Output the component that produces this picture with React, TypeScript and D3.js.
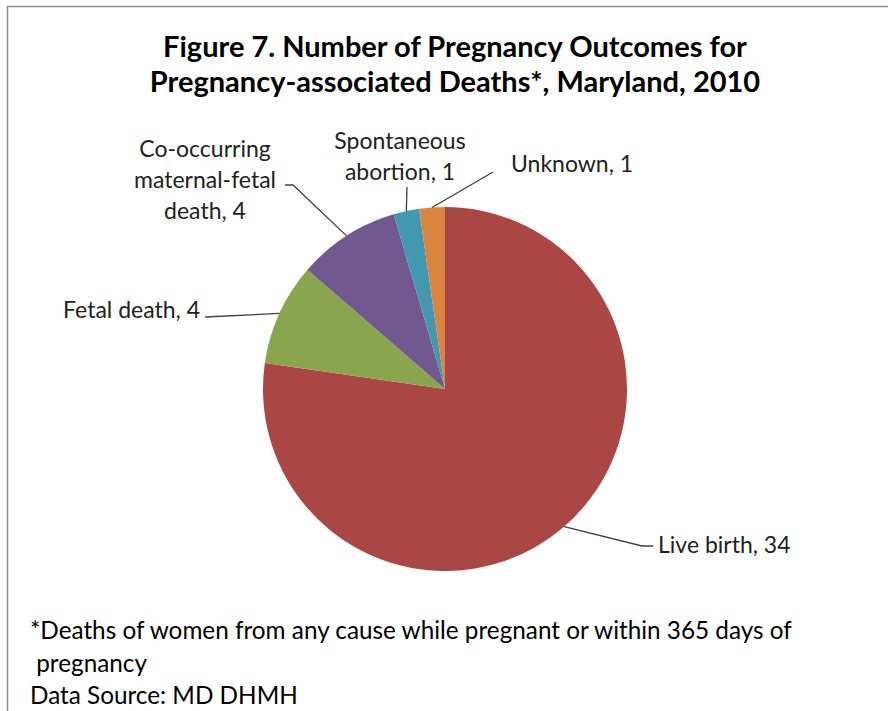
import React from "react";
import * as d3 from "d3";

const categories = [
  "Live birth",
  "Fetal death",
  "Co-occurring maternal-fetal death",
  "Spontaneous abortion",
  "Unknown",
];
const counts = [34, 4, 4, 1, 1];
const sliceColors = ["#AA4643", "#89A54E", "#71588F", "#4198AF", "#DB843D"];

const titleLines = [
  "Figure 7. Number of Pregnancy Outcomes for",
  "Pregnancy-associated Deaths*, Maryland, 2010",
];
const footnoteLines = [
  "*Deaths of women from any cause while pregnant or within 365 days of",
  " pregnancy",
  "Data Source: MD DHMH",
];

// Label text lines for each slice (name and count)
const labelLines = [
  ["Live birth, 34"],
  ["Fetal death, 4"],
  ["Co-occurring", "maternal-fetal", "death, 4"],
  ["Spontaneous", "abortion, 1"],
  ["Unknown, 1"],
];

const W = 888;
const H = 711;
const FONT = "Lato, 'Open Sans', sans-serif";

export default function App() {
  const cx = 445;
  const cy = 389;
  const r = 182;

  const pie = d3
    .pie<number>()
    .sort(null)
    .value((d) => d)
    .startAngle(0)
    .endAngle(2 * Math.PI);
  const arcs = pie(counts);
  const arc = d3.arc<d3.PieArcDatum<number>>().innerRadius(0).outerRadius(r);

  const edgePoint = (a: d3.PieArcDatum<number>) => {
    const m = (a.startAngle + a.endAngle) / 2;
    return [cx + r * Math.sin(m), cy - r * Math.cos(m)];
  };

  // leader path points after the slice edge, text anchor and first baseline
  const layouts = [
    { path: [[642, 546], [653, 546]], anchor: "start", x: 658, y: 553, gap: 31 },
    { path: [[205, 317]], anchor: "end", x: 200, y: 318, gap: 31 },
    { path: [[293, 185], [285, 185]], anchor: "middle", x: 205, y: 157, gap: 31 },
    { path: [[407, 187]], anchor: "middle", x: 400, y: 149, gap: 31 },
    { path: [[493, 172]], anchor: "start", x: 511, y: 172, gap: 31 },
  ];

  const line = d3.line();

  return (
    <svg
      width={W}
      height={H}
      style={{ position: "absolute", left: 0, top: 0, background: "#fff" }}
      fontFamily={FONT}
    >
      <rect x={0} y={0} width={W} height={H} fill="#fff" />
      <rect
        x={7.5}
        y={6.5}
        width={W + 20}
        height={H + 20}
        fill="none"
        stroke="#8c8c8c"
        strokeWidth={1.5}
      />
      {titleLines.map((t, i) => (
        <text
          key={i}
          x={455}
          y={57 + i * 35}
          textAnchor="middle"
          fontSize={29}
          fontWeight="bold"
          fill="#000"
        >
          {t}
        </text>
      ))}
      <g transform={`translate(${cx},${cy})`}>
        {arcs.map((a, i) => (
          <path key={i} d={arc(a) || ""} fill={sliceColors[i]} />
        ))}
      </g>
      {arcs.map((a, i) => {
        const L = layouts[i];
        const pts = [edgePoint(a), ...L.path] as [number, number][];
        return (
          <g key={i}>
            <path d={line(pts) || ""} fill="none" stroke="#404040" strokeWidth={1.3} />
            {labelLines[i].map((t, j) => (
              <text
                key={j}
                x={L.x}
                y={L.y + j * L.gap}
                textAnchor={L.anchor as any}
                fontSize={23}
                fill="#222"
              >
                {t}
              </text>
            ))}
          </g>
        );
      })}
      {footnoteLines.map((t, i) => (
        <text
          key={i}
          x={30}
          y={639 + i * 32.5}
          fontSize={24.3}
          fill="#000"
          style={{ whiteSpace: "pre" }}
        >
          {t}
        </text>
      ))}
    </svg>
  );
}
